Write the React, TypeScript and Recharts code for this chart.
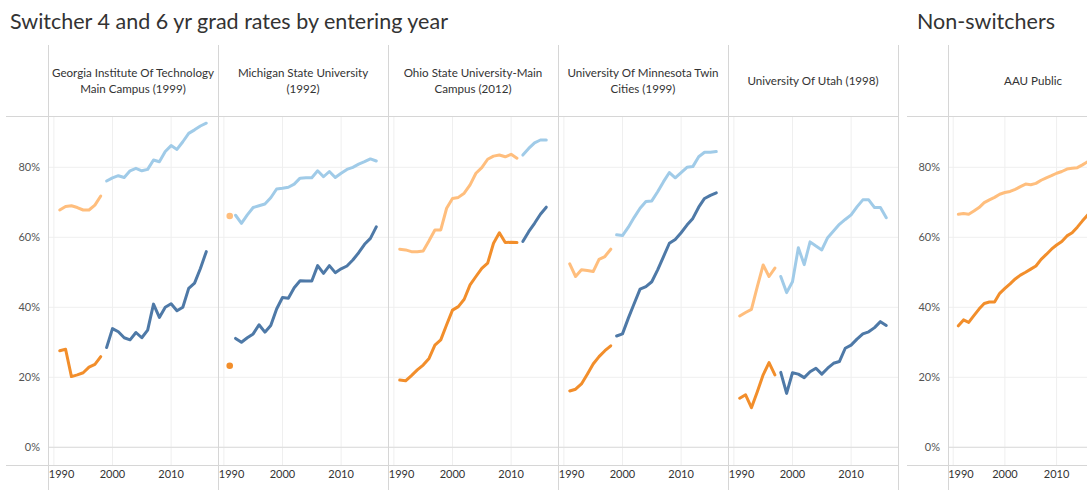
import React from 'react';
import { LineChart, Line, XAxis, YAxis, CartesianGrid, ReferenceLine } from 'recharts';

// entering years shown on every panel
const YEARS = [
  1991, 1992, 1993, 1994, 1995, 1996, 1997, 1998, 1999, 2000, 2001, 2002, 2003,
  2004, 2005, 2006, 2007, 2008, 2009, 2010, 2011, 2012, 2013, 2014, 2015, 2016,
];
const X_TICKS = [1990, 2000, 2010];
const Y_TICKS = [0, 20, 40, 60, 80];

// Georgia Tech (switch 1999)
const gaPre4 = [27.6, 28.0, 20.2, 20.7, 21.3, 22.9, 23.7, 25.9, null, null, null, null, null, null, null, null, null, null, null, null, null, null, null, null, null, null];
const gaPre6 = [67.8, 68.8, 69.0, 68.5, 67.8, 67.8, 69.2, 71.8, null, null, null, null, null, null, null, null, null, null, null, null, null, null, null, null, null, null];
const gaPost4 = [null, null, null, null, null, null, null, null, 28.5, 33.9, 33.0, 31.3, 30.7, 32.8, 31.3, 33.5, 40.9, 37.1, 40.0, 41.0, 39.0, 40.0, 45.4, 46.9, 51.1, 55.9];
const gaPost6 = [null, null, null, null, null, null, null, null, 76.1, 77.0, 77.6, 77.1, 79.0, 79.7, 79.0, 79.4, 82.1, 81.6, 84.5, 86.2, 85.1, 87.3, 89.7, 90.7, 91.8, 92.6];

// Michigan State (switch 1992)
const msuPre4 = [23.3, null, null, null, null, null, null, null, null, null, null, null, null, null, null, null, null, null, null, null, null, null, null, null, null, null];
const msuPre6 = [66.1, null, null, null, null, null, null, null, null, null, null, null, null, null, null, null, null, null, null, null, null, null, null, null, null, null];
const msuPost4 = [null, 31.1, 30.0, 31.3, 32.4, 35.0, 32.9, 34.8, 39.5, 42.8, 42.6, 45.6, 47.6, 47.5, 47.5, 51.9, 49.7, 51.9, 49.9, 51.0, 51.8, 53.5, 55.6, 58.0, 59.7, 63.0];
const msuPost6 = [null, 66.3, 64.0, 66.4, 68.5, 69.0, 69.5, 71.3, 73.8, 74.0, 74.3, 75.2, 76.9, 77.0, 77.0, 79.0, 77.3, 78.8, 77.1, 78.3, 79.4, 80.0, 80.9, 81.6, 82.4, 81.8];

// Ohio State (switch 2012)
const osuPre4 = [19.2, 19.0, 20.5, 22.1, 23.5, 25.4, 29.2, 30.7, 35.0, 39.2, 40.2, 42.3, 46.4, 48.8, 51.1, 52.6, 58.3, 61.3, 58.5, 58.6, 58.5, null, null, null, null, null];
const osuPre6 = [56.6, 56.4, 55.9, 55.9, 56.1, 59.0, 62.1, 62.1, 68.3, 71.1, 71.4, 72.6, 75.0, 78.3, 79.9, 82.3, 83.2, 83.5, 83.0, 83.7, 82.6, null, null, null, null, null];
const osuPost4 = [null, null, null, null, null, null, null, null, null, null, null, null, null, null, null, null, null, null, null, null, null, 58.8, 61.6, 64.0, 66.6, 68.6];
const osuPost6 = [null, null, null, null, null, null, null, null, null, null, null, null, null, null, null, null, null, null, null, null, null, 83.5, 85.4, 87.0, 87.8, 87.8];

// Minnesota (switch 1999)
const umnPre4 = [16.1, 16.6, 18.1, 20.9, 23.8, 25.9, 27.6, 29.0, null, null, null, null, null, null, null, null, null, null, null, null, null, null, null, null, null, null];
const umnPre6 = [52.4, 48.8, 50.7, 50.5, 50.2, 53.7, 54.5, 56.6, null, null, null, null, null, null, null, null, null, null, null, null, null, null, null, null, null, null];
const umnPost4 = [null, null, null, null, null, null, null, null, 31.8, 32.4, 36.9, 41.1, 45.2, 45.9, 47.3, 50.7, 54.5, 58.3, 59.4, 61.3, 63.5, 65.4, 68.6, 71.1, 72.0, 72.7];
const umnPost6 = [null, null, null, null, null, null, null, null, 60.7, 60.5, 62.9, 65.7, 68.3, 70.2, 70.4, 73.0, 75.9, 78.5, 77.0, 78.5, 80.0, 80.2, 83.0, 84.3, 84.3, 84.5];

// Utah (switch 1998)
const utahPre4 = [14.0, 15.0, 11.3, 15.9, 20.7, 24.2, 20.7, null, null, null, null, null, null, null, null, null, null, null, null, null, null, null, null, null, null, null];
const utahPre6 = [37.5, 38.5, 39.4, 45.9, 52.1, 48.8, 51.2, null, null, null, null, null, null, null, null, null, null, null, null, null, null, null, null, null, null, null];
const utahPost4 = [null, null, null, null, null, null, null, 21.4, 15.4, 21.3, 20.9, 19.9, 21.6, 22.6, 20.9, 22.6, 24.0, 24.5, 28.3, 29.2, 30.9, 32.4, 33.0, 34.2, 35.9, 34.8];
const utahPost6 = [null, null, null, null, null, null, null, 48.8, 44.2, 47.3, 57.0, 52.2, 58.7, 57.5, 56.4, 59.9, 61.8, 63.7, 65.1, 66.4, 68.7, 70.7, 70.7, 68.5, 68.5, 65.6];

// AAU public, non-switchers
const aauRate4 = [34.7, 36.4, 35.7, 37.6, 39.5, 41.1, 41.5, 41.5, 44.0, 45.4, 46.7, 48.1, 49.2, 50.0, 50.9, 51.8, 53.7, 55.1, 56.6, 57.8, 58.8, 60.4, 61.3, 62.9, 64.7, 66.4];
const aauRate6 = [66.6, 66.8, 66.6, 67.5, 68.5, 69.9, 70.7, 71.4, 72.3, 72.8, 73.1, 73.7, 74.5, 75.2, 75.0, 75.4, 76.3, 77.0, 77.6, 78.3, 78.8, 79.5, 79.7, 79.9, 80.7, 81.6];

const empty = YEARS.map(() => null);

const PANELS = [
  { lines: ['Georgia Institute Of Technology', 'Main Campus (1999)'], pre4: gaPre4, pre6: gaPre6, post4: gaPost4, post6: gaPost6 },
  { lines: ['Michigan State University', '(1992)'], pre4: msuPre4, pre6: msuPre6, post4: msuPost4, post6: msuPost6 },
  { lines: ['Ohio State University-Main', 'Campus (2012)'], pre4: osuPre4, pre6: osuPre6, post4: osuPost4, post6: osuPost6 },
  { lines: ['University Of Minnesota Twin', 'Cities (1999)'], pre4: umnPre4, pre6: umnPre6, post4: umnPost4, post6: umnPost6 },
  { lines: ['University Of Utah (1998)'], pre4: utahPre4, pre6: utahPre6, post4: utahPost4, post6: utahPost6 },
];

const DARK_BLUE = '#4e79a7';
const LIGHT_BLUE = '#a0cbe8';
const ORANGE = '#f28e2b';
const LIGHT_ORANGE = '#ffbe7d';
const FONT = 'Lato, "Open Sans", sans-serif';
const FRAME = '#d6d6d6';
const GRID = '#efefef';

const PLOT_TOP = 116;
const CHART_H = 374;
const PANEL_W = 170;
const Y_DOMAIN = [-5.06, 94.66];

// only single points (no neighbours) get a dot, like the MSU pre-switch values
const loneDot = (values: (number | null)[], color: string) => (props: any) => {
  const { cx, cy, index } = props;
  const alone = values[index] != null && values[index - 1] == null && values[index + 1] == null;
  if (!alone || cx == null || cy == null) return <g key={`d${index}`} />;
  return <circle key={`d${index}`} cx={cx} cy={cy} r={3.3} fill={color} />;
};

const XTick = (props: any) => {
  const { x, y, payload } = props;
  const first = payload.value === 1990;
  return (
    <text
      x={first ? x - 5 : x}
      y={y + 11}
      textAnchor={first ? 'start' : 'middle'}
      fontSize={11}
      fontFamily={FONT}
      fill="#333"
    >
      {payload.value}
    </text>
  );
};

const series = (key: string, values: (number | null)[], color: string) => (
  <Line
    key={key}
    type="linear"
    dataKey={key}
    stroke={color}
    strokeWidth={3}
    strokeLinecap="round"
    strokeLinejoin="round"
    dot={loneDot(values, color)}
    activeDot={false}
    connectNulls={false}
    isAnimationActive={false}
  />
);

function Panel({
  width,
  showY,
  pre4,
  pre6,
  post4 = empty,
  post6 = empty,
}: {
  width: number;
  showY: boolean;
  pre4: (number | null)[];
  pre6: (number | null)[];
  post4?: (number | null)[];
  post6?: (number | null)[];
}) {
  const rows = YEARS.map((year, i) => ({
    year,
    pre4: pre4[i],
    pre6: pre6[i],
    post4: post4[i],
    post6: post6[i],
  }));
  return (
    <LineChart width={width} height={CHART_H} data={rows} margin={{ top: 0, right: 0, bottom: 0, left: 0 }}>
      <CartesianGrid stroke={GRID} horizontalValues={Y_TICKS} verticalValues={X_TICKS} />
      <XAxis
        dataKey="year"
        type="number"
        domain={[1989, 2018]}
        ticks={X_TICKS}
        interval={0}
        height={25}
        axisLine={false}
        tickLine={false}
        tickSize={0}
        tick={<XTick />}
      />
      <YAxis
        type="number"
        domain={Y_DOMAIN}
        ticks={Y_TICKS}
        hide={!showY}
        width={48}
        axisLine={false}
        tickLine={false}
        tickSize={0}
        tickMargin={8}
        tickFormatter={(v: number) => `${v}%`}
        tick={{ fontSize: 11, fill: '#555', fontFamily: FONT }}
      />
      <ReferenceLine y={0} stroke="#dcdcdc" strokeWidth={1} />
      {series('pre6', pre6, LIGHT_ORANGE)}
      {series('pre4', pre4, ORANGE)}
      {series('post6', post6, LIGHT_BLUE)}
      {series('post4', post4, DARK_BLUE)}
    </LineChart>
  );
}

const abs = (left: number, top: number, width: number, height: number, bg?: string): React.CSSProperties => ({
  position: 'absolute',
  left,
  top,
  width,
  height,
  background: bg,
});

export default function App() {
  const seps = [48, 218, 388, 558, 728, 898];
  return (
    <div
      style={{
        position: 'absolute',
        left: 0,
        top: 0,
        width: 1087,
        height: 490,
        overflow: 'hidden',
        background: '#fff',
        fontFamily: FONT,
      }}
    >
      <div style={{ position: 'absolute', left: 10, top: 8, fontSize: 21.5, color: '#333', whiteSpace: 'nowrap' }}>
        Switcher 4 and 6 yr grad rates by entering year
      </div>
      <div style={{ position: 'absolute', left: 917, top: 8, fontSize: 21.5, color: '#333', whiteSpace: 'nowrap' }}>
        Non-switchers
      </div>

      {/* headers */}
      {PANELS.map((p, i) => (
        <div
          key={i}
          style={{
            ...abs(48 + i * PANEL_W, 45, PANEL_W, 71),
            display: 'flex',
            flexDirection: 'column',
            justifyContent: 'center',
            alignItems: 'center',
            fontSize: 11.6,
            lineHeight: '16px',
            color: '#333',
            textAlign: 'center',
            whiteSpace: 'nowrap',
          }}
        >
          {p.lines.map((l) => (
            <div key={l}>{l}</div>
          ))}
        </div>
      ))}
      <div
        style={{
          ...abs(948, 45, PANEL_W, 71),
          display: 'flex',
          alignItems: 'center',
          justifyContent: 'center',
          fontSize: 11.6,
          color: '#333',
        }}
      >
        AAU Public
      </div>

      {/* charts */}
      <div style={abs(0, PLOT_TOP, 48 + PANEL_W, CHART_H)}>
        <Panel width={48 + PANEL_W} showY {...PANELS[0]} />
      </div>
      {PANELS.slice(1).map((p, i) => (
        <div key={i} style={abs(48 + (i + 1) * PANEL_W, PLOT_TOP, PANEL_W, CHART_H)}>
          <Panel width={PANEL_W} showY={false} {...p} />
        </div>
      ))}
      <div style={abs(900, PLOT_TOP, 48 + 150, CHART_H)}>
        <Panel width={48 + 150} showY pre4={aauRate4} pre6={aauRate6} />
      </div>

      {/* frame lines */}
      {seps.map((x) => (
        <div key={x} style={abs(x, 45, 1, 445, FRAME)} />
      ))}
      <div style={abs(948, 45, 1, 445, FRAME)} />
      <div style={abs(6, 116, 892, 1, FRAME)} />
      <div style={abs(6, 465, 892, 1, FRAME)} />
      <div style={abs(907, 116, 180, 1, FRAME)} />
      <div style={abs(907, 465, 180, 1, FRAME)} />
    </div>
  );
}
